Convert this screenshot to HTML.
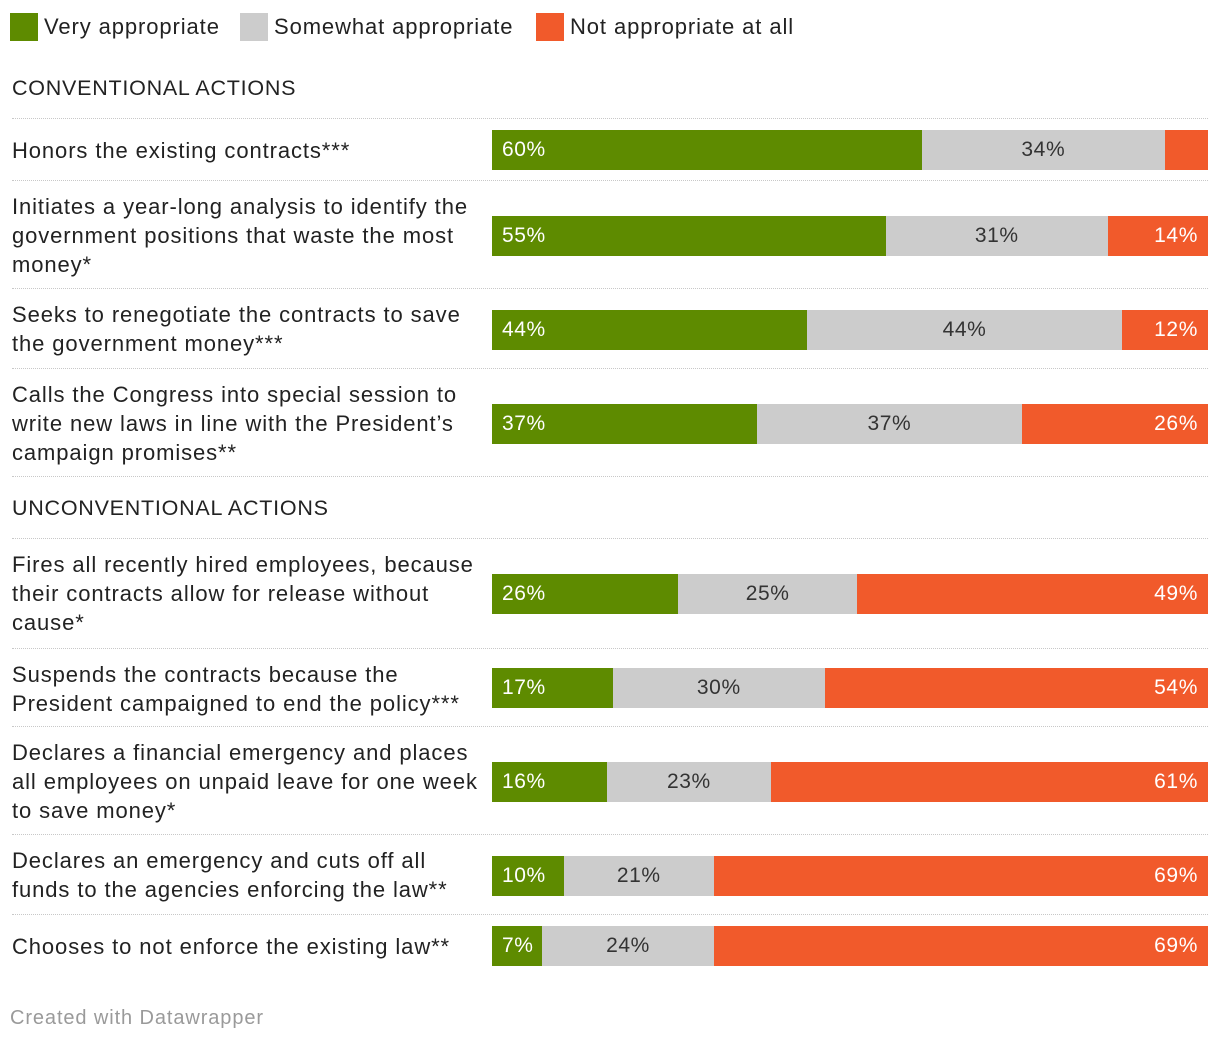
<!DOCTYPE html>
<html><head><meta charset="utf-8">
<style>
body{margin:0;width:1220px;height:1044px;background:#fff;font-family:"Liberation Sans",sans-serif;color:#222;position:relative;overflow:hidden}
.abs{position:absolute}
.lg{position:absolute;top:13px;height:28px;font-size:22px;line-height:28px;letter-spacing:0.9px}
.sw{position:absolute;top:13px;width:28px;height:28px}
.hdr{position:absolute;left:12px;font-size:21.5px;letter-spacing:0.75px}
.sep{position:absolute;left:12px;width:1196px;border-top:1.5px dotted #c8c8c8}
.lbl{position:absolute;left:12px;width:480px;font-size:22px;line-height:29px;letter-spacing:0.9px;white-space:nowrap}
.seg{position:absolute;height:40px;font-size:21px;line-height:40px;box-sizing:border-box;letter-spacing:0.6px}
</style></head><body>
<div class="sw" style="left:10px;background:#5e8b00"></div>
<div class="lg" style="left:44px">Very appropriate</div>
<div class="sw" style="left:240px;background:#cccccc"></div>
<div class="lg" style="left:274px">Somewhat appropriate</div>
<div class="sw" style="left:536px;background:#f15a2b"></div>
<div class="lg" style="left:570px">Not appropriate at all</div>
<div class="hdr" style="top:76px">CONVENTIONAL ACTIONS</div>
<div class="hdr" style="top:496px">UNCONVENTIONAL ACTIONS</div>
<div class="abs" style="left:10px;top:1007px;font-size:20px;color:#9a9a9a;letter-spacing:0.9px">Created with Datawrapper</div>
<script>
const categories=["Honors the existing contracts***","Initiates a year-long analysis to identify the|government positions that waste the most|money*","Seeks to renegotiate the contracts to save|the government money***","Calls the Congress into special session to|write new laws in line with the President’s|campaign promises**","Fires all recently hired employees, because|their contracts allow for release without|cause*","Suspends the contracts because the|President campaigned to end the policy***","Declares a financial emergency and places|all employees on unpaid leave for one week|to save money*","Declares an emergency and cuts off all|funds to the agencies enforcing the law**","Chooses to not enforce the existing law**"];
const veryValues=[60,55,44,37,26,17,16,10,7];
const somewhatValues=[34,31,44,37,25,30,23,21,24];
const notValues=[6,14,12,26,49,54,61,69,69];
const barTops=[130,216,310,404,574,668,762,856,926];
const labelTops=[136,192,300,380,550,660,738,846,932];
const seps=[118,180,288,368,476,538,648,726,834,914];
const X0=492,W=716;
const body=document.body;
seps.forEach((y,i)=>{const d=document.createElement('div');d.className='sep';d.style.top=y+'px';


body.appendChild(d);});
const colors=['#5e8b00','#cccccc','#f15a2b'];
const tcol=['#fff','#333','#fff'];
categories.forEach((c,i)=>{
 const l=document.createElement('div');l.className='lbl';l.style.top=labelTops[i]+'px';
 c.split('|').forEach((t,k)=>{if(k)l.appendChild(document.createElement('br'));l.appendChild(document.createTextNode(t));});
 
 
 body.appendChild(l);
 const vals=[veryValues[i],somewhatValues[i],notValues[i]];
 const sum=vals[0]+vals[1]+vals[2];
 let x=X0;
 vals.forEach((v,j)=>{
  const w=v/sum*W;
  const s=document.createElement('div');s.className='seg';
  s.style.left=x+'px';s.style.top=barTops[i]+'px';s.style.width=w+'px';s.style.background=colors[j];s.style.color=tcol[j];
  if(j===0){s.style.paddingLeft='10px';}else if(j===1){s.style.textAlign='center';}else{s.style.textAlign='right';s.style.paddingRight='10px';}
  if(w>45)s.textContent=v+'%';
  
  
  body.appendChild(s);x+=w;
 });
});
</script>
</body></html>
